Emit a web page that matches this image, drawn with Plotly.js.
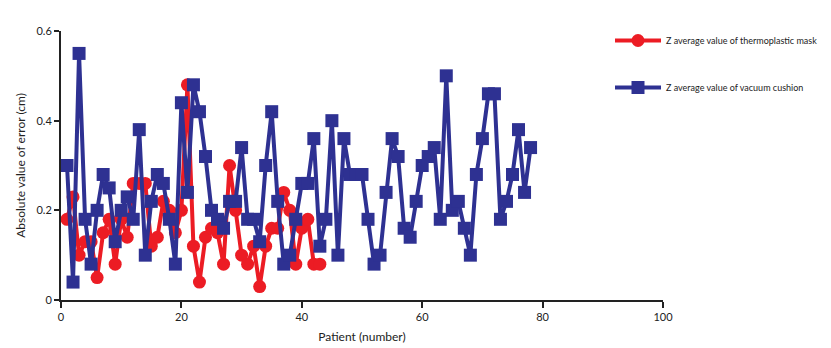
<!DOCTYPE html>
<html>
<head>
<meta charset="utf-8">
<script src="https://cdn.plot.ly/plotly-3.0.1.min.js"></script>
<style>html,body{margin:0;padding:0;background:#fff;}#chart{width:831px;height:348px;}</style>
</head>
<body>
<div id="chart"></div>
<script>
const maskName = "Z average value of thermoplastic mask";
const cushionName = "Z average value of vacuum cushion";
const maskPatients = [1,2,3,4,5,6,7,8,9,10,11,12,13,14,15,16,17,18,19,20,21,22,23,24,25,26,27,28,29,30,31,32,33,34,35,36,37,38,39,40,41,42,43];
const maskValues = [0.18,0.23,0.10,0.13,0.13,0.05,0.15,0.18,0.08,0.18,0.14,0.26,0.26,0.26,0.12,0.14,0.22,0.20,0.15,0.20,0.48,0.12,0.04,0.14,0.16,0.15,0.08,0.30,0.20,0.10,0.08,0.12,0.03,0.12,0.16,0.16,0.24,0.20,0.08,0.16,0.18,0.08,0.08];
const cushionPatients = [1,2,3,4,5,6,7,8,9,10,11,12,13,14,15,16,17,18,19,20,21,22,23,24,25,26,27,28,29,30,31,32,33,34,35,36,37,38,39,40,41,42,43,44,45,46,47,48,49,50,51,52,53,54,55,56,57,58,59,60,61,62,63,64,65,66,67,68,69,70,71,72,73,74,75,76,77,78];
const cushionValues = [0.30,0.04,0.55,0.18,0.08,0.20,0.28,0.25,0.13,0.20,0.23,0.18,0.38,0.10,0.22,0.28,0.26,0.18,0.08,0.44,0.24,0.48,0.42,0.32,0.20,0.18,0.16,0.22,0.22,0.34,0.18,0.18,0.13,0.30,0.42,0.22,0.08,0.10,0.18,0.26,0.26,0.36,0.12,0.18,0.40,0.10,0.36,0.28,0.28,0.28,0.18,0.08,0.10,0.24,0.36,0.32,0.16,0.14,0.22,0.30,0.32,0.34,0.18,0.50,0.20,0.22,0.16,0.10,0.28,0.36,0.46,0.46,0.18,0.22,0.28,0.38,0.24,0.34];
const xTicks = [0,20,40,60,80,100];
const yTicks = [0,0.2,0.4,0.6];
const yTickText = ["0","0.2","0.4","0.6"];

const fontFam = "Lato, 'Open Sans', sans-serif";
const traces = [
  {x: maskPatients, y: maskValues, name: maskName, type: "scatter", mode: "lines+markers",
   legendgroup: "a",
   line: {color: "#EC1C24", width: 4},
   marker: {symbol: "circle", size: 13, color: "#EC1C24"}},
  {x: cushionPatients, y: cushionValues, name: cushionName, type: "scatter", mode: "lines+markers",
   legendgroup: "b",
   line: {color: "#2E3192", width: 4},
   marker: {symbol: "square", size: 13, color: "#2E3192"}}
];
const layout = {
  width: 831, height: 348,
  margin: {l: 61, r: 168, t: 31, b: 48, autoexpand: false},
  paper_bgcolor: "#fff", plot_bgcolor: "#fff",
  font: {family: fontFam, color: "#222", size: 11},
  showlegend: true,
  legend: {xref: "container", yref: "container", x: 610/831, y: 1 - 26/348, xanchor: "left", yanchor: "top",
           font: {size: 9, family: fontFam, color: "#222"},
           tracegroupgap: 28, traceorder: "grouped", itemwidth: 46, bgcolor: "rgba(0,0,0,0)"},
  xaxis: {range: [0, 100], tickvals: xTicks, ticks: "outside", ticklen: 6, tickwidth: 2, tickcolor: "#222",
          showline: true, linewidth: 2, linecolor: "#222", showgrid: false, zeroline: false,
          tickfont: {size: 11}, title: {text: "Patient (number)", font: {size: 12}, standoff: 10}},
  yaxis: {range: [0, 0.6], tickvals: yTicks, ticktext: yTickText, ticks: "outside", ticklen: 5, tickwidth: 2, tickcolor: "#222",
          showline: true, linewidth: 2, linecolor: "#222", showgrid: false, zeroline: false,
          tickfont: {size: 11}, title: {text: "Absolute value of error (cm)", font: {size: 12}, standoff: 8}}
};
Plotly.newPlot("chart", traces, layout, {displayModeBar: false, staticPlot: true});
</script>
</body>
</html>
